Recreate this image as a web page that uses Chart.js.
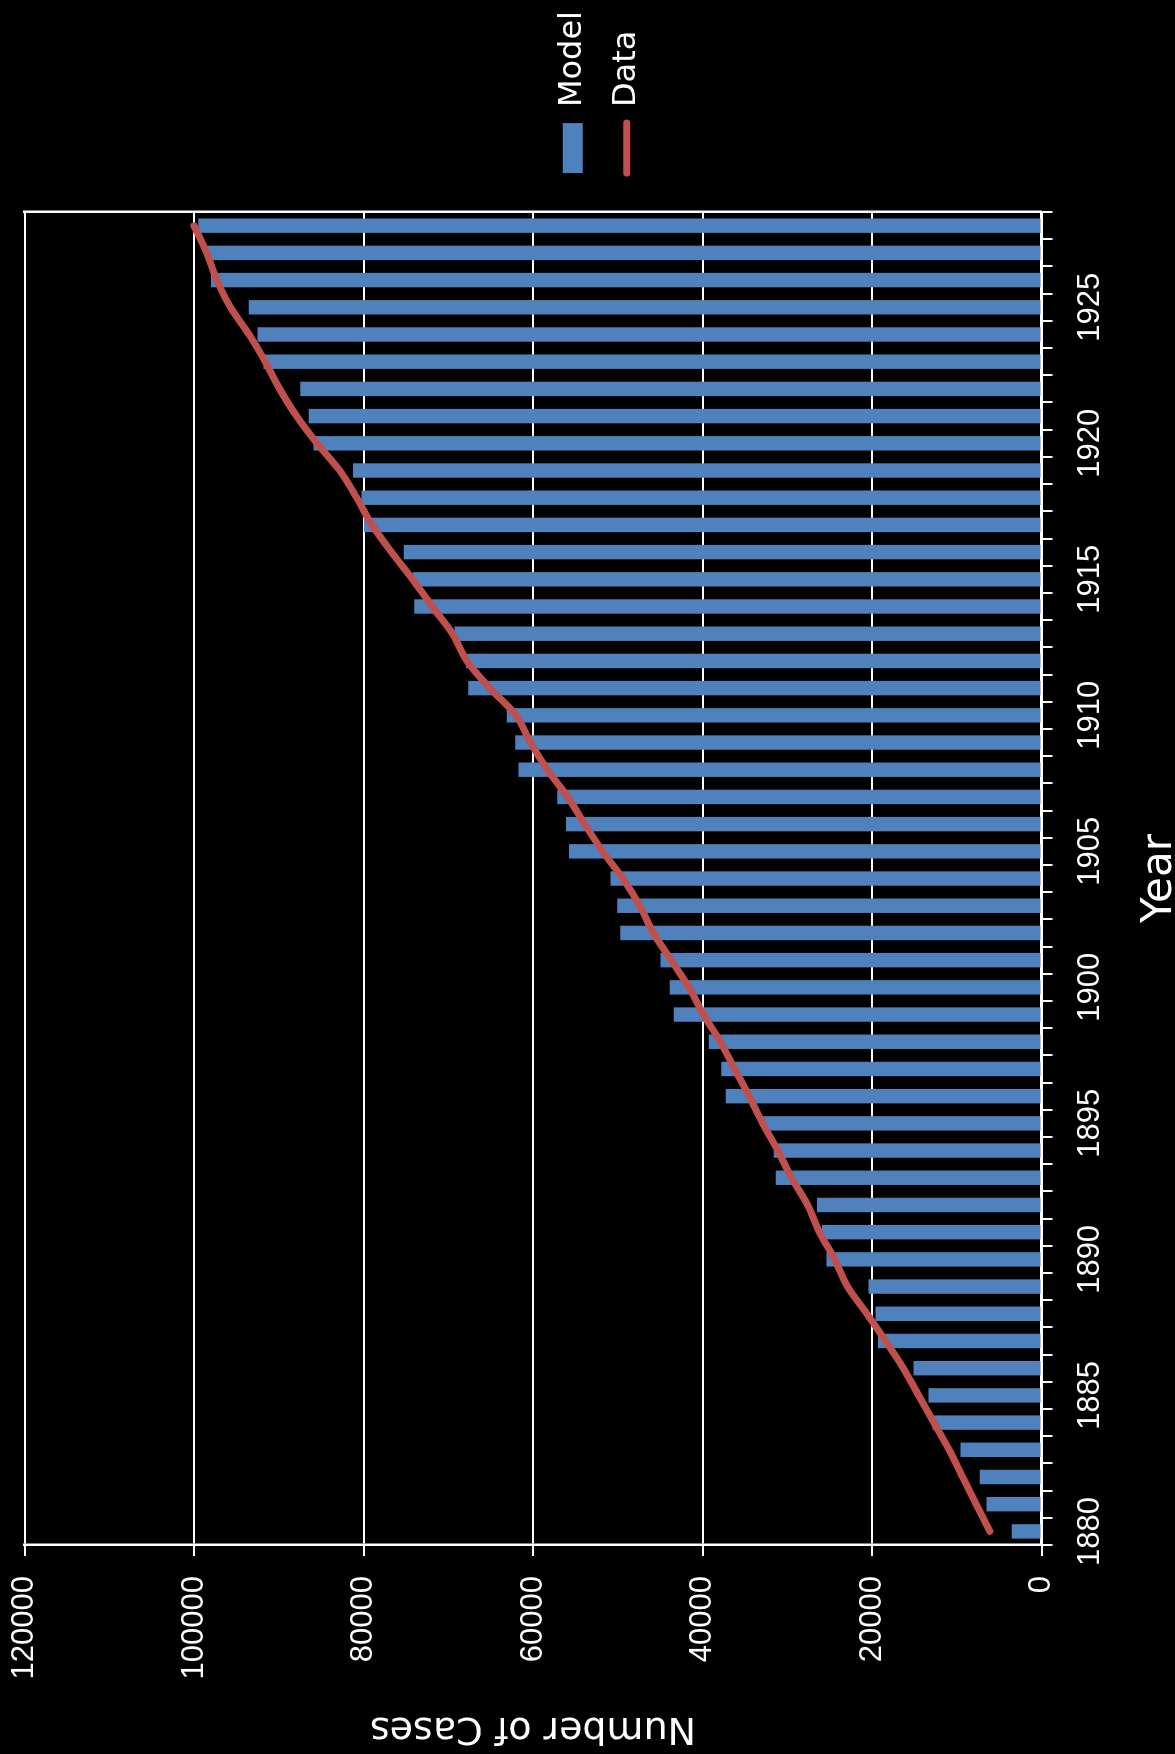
<!DOCTYPE html>
<html>
<head>
<meta charset="utf-8">
<script src="https://cdn.jsdelivr.net/npm/chart.js@4/dist/chart.umd.min.js"></script>
<style>
  html, body { margin: 0; padding: 0; background: #000; width: 1175px; height: 1754px; overflow: hidden; }
  /* the chart is laid out in landscape and turned a quarter turn counter-clockwise */
  #wrap { position: absolute; left: 0; top: 0; width: 1754px; height: 1175px;
          transform-origin: 0 0; transform: translateY(1754px) rotate(-90deg); }
  canvas { display: block; }
</style>
</head>
<body>
<div id="wrap"><canvas id="c" width="1754" height="1175"></canvas></div>
<script>
// Years on the category axis
const years = [1880,1881,1882,1883,1884,1885,1886,1887,1888,1889,
               1890,1891,1892,1893,1894,1895,1896,1897,1898,1899,
               1900,1901,1902,1903,1904,1905,1906,1907,1908,1909,
               1910,1911,1912,1913,1914,1915,1916,1917,1918,1919,
               1920,1921,1922,1923,1924,1925,1926,1927,1928];

// Model: predicted number of cases per year
const modelCases = [3500,6500,7300,9550,12850,13330,15100,19300,19600,20400,
                    25360,25900,26500,31350,31600,32850,37260,37800,39250,43400,
                    43850,44950,49700,50050,50850,55750,56100,57150,61700,62100,
                    63100,67650,67900,69250,74000,74200,75250,79950,80250,81250,
                    85900,86450,87450,91800,92500,93550,98000,98550,99500];

// Data: observed number of cases per year
const dataCases = [6100,7700,9300,10900,12700,14500,16300,18400,20600,22900,
                   24400,26200,27600,29500,31100,32900,34500,36200,37900,39900,
                   41600,43700,45800,47400,49400,51800,53900,55900,58300,60300,
                   62000,65100,67800,69500,71900,74200,76700,79000,80800,82800,
                   85500,87900,89900,91600,93500,95700,97300,98500,100000];

// Years that carry a tick label
const labeledYears = [1880,1885,1890,1895,1900,1905,1910,1915,1920,1925];

// Value-axis ticks
const valueTicks = [0,20000,40000,60000,80000,100000,120000];

const BLUE = '#4F81BD';
const RED = '#C0504D';
const WHITE = '#FFFFFF';
const TICK_FONT = { family: '"Liberation Sans", Arial, sans-serif', size: 31 };
const TEXT_FONT = '"DejaVu Sans", sans-serif';

new Chart(document.getElementById('c'), {
  data: {
    labels: years,
    datasets: [
      {
        type: 'bar',
        label: 'Model',
        data: modelCases,
        backgroundColor: BLUE,
        borderWidth: 0,
        categoryPercentage: 1,
        barPercentage: 0.53,
        order: 1
      },
      {
        type: 'line',
        label: 'Data',
        data: dataCases,
        borderColor: RED,
        backgroundColor: RED,
        borderWidth: 7,
        borderCapStyle: 'round',
        borderJoinStyle: 'round',
        cubicInterpolationMode: 'monotone',
        pointRadius: 0,
        fill: false,
        order: 0
      }
    ]
  },
  options: {
    responsive: false,
    animation: false,
    devicePixelRatio: 1,
    events: [],
    layout: { padding: { top: 24.5, right: 1, bottom: 0, left: 0 } },
    plugins: {
      tooltip: { enabled: false },
      legend: {
        position: 'right',
        align: 'center',
        labels: {
          color: WHITE,
          font: { family: TEXT_FONT, size: 32 },
          usePointStyle: true,
          pointStyleWidth: 50,
          boxHeight: 20,
          padding: 22,
          sort: (a, b) => a.datasetIndex - b.datasetIndex,
          generateLabels(chart) {
            const items = Chart.defaults.plugins.legend.labels.generateLabels(chart);
            items.forEach(it => {
              if (it.datasetIndex === 0) {
                it.pointStyle = 'rect';
                it.fillStyle = BLUE;
                it.strokeStyle = BLUE;
                it.lineWidth = 0;
              } else {
                it.pointStyle = 'line';
                it.strokeStyle = RED;
                it.lineWidth = 7;
                it.lineCap = 'round';
              }
              it.fontColor = WHITE;
            });
            return items;
          }
        }
      }
    },
    scales: {
      x: {
        type: 'category',
        offset: true,
        grid: {
          offset: true,
          drawOnChartArea: false,
          drawTicks: true,
          tickLength: 11,
          tickColor: WHITE,
          tickWidth: 2,
          color: WHITE,
          lineWidth: 2
        },
        border: { display: true, color: WHITE, width: 2.5 },
        ticks: {
          color: WHITE,
          font: TICK_FONT,
          autoSkip: false,
          maxRotation: 0,
          minRotation: 0,
          padding: 19,
          callback(value, index) {
            const y = years[index];
            return labeledYears.includes(y) ? String(y) : '';
          }
        },
        title: {
          display: true,
          text: 'Year',
          color: WHITE,
          font: { family: TEXT_FONT, size: 42, lineHeight: 0.7 },
          padding: { top: 0, bottom: 0 }
        },
        afterFit(scale) { scale.height = 133.5; }
      },
      y: {
        type: 'linear',
        position: 'left',
        min: valueTicks[0],
        max: valueTicks[valueTicks.length - 1],
        afterBuildTicks(scale) { scale.ticks = valueTicks.map(v => ({ value: v })); },
        grid: {
          color: WHITE,
          lineWidth: 2,
          drawTicks: true,
          tickLength: 11,
          tickColor: WHITE,
          tickWidth: 2
        },
        border: { display: true, color: WHITE, width: 2.5 },
        ticks: {
          color: WHITE,
          font: TICK_FONT,
          padding: 20,
          callback: v => String(v)
        },
        title: {
          display: true,
          text: 'Number of Cases',
          color: WHITE,
          font: { family: TEXT_FONT, size: 38, lineHeight: 1.2 },
          padding: { top: 3, bottom: 0 }
        },
        afterFit(scale) {
          scale.width = 209;
          // end labels may spill past the plot edges; keep the plot at its own size
          scale.paddingTop = 0;
          scale.paddingBottom = 0;
        }
      },
      frame: {
        type: 'linear',
        position: 'right',
        display: true,
        grid: { drawOnChartArea: false, drawTicks: false },
        border: { display: true, color: WHITE, width: 2.5 },
        ticks: { display: false },
        afterFit(scale) {
          scale.width = 17;
          scale.paddingTop = 0;
          scale.paddingBottom = 0;
        }
      }
    }
  }
});
</script>
</body>
</html>
